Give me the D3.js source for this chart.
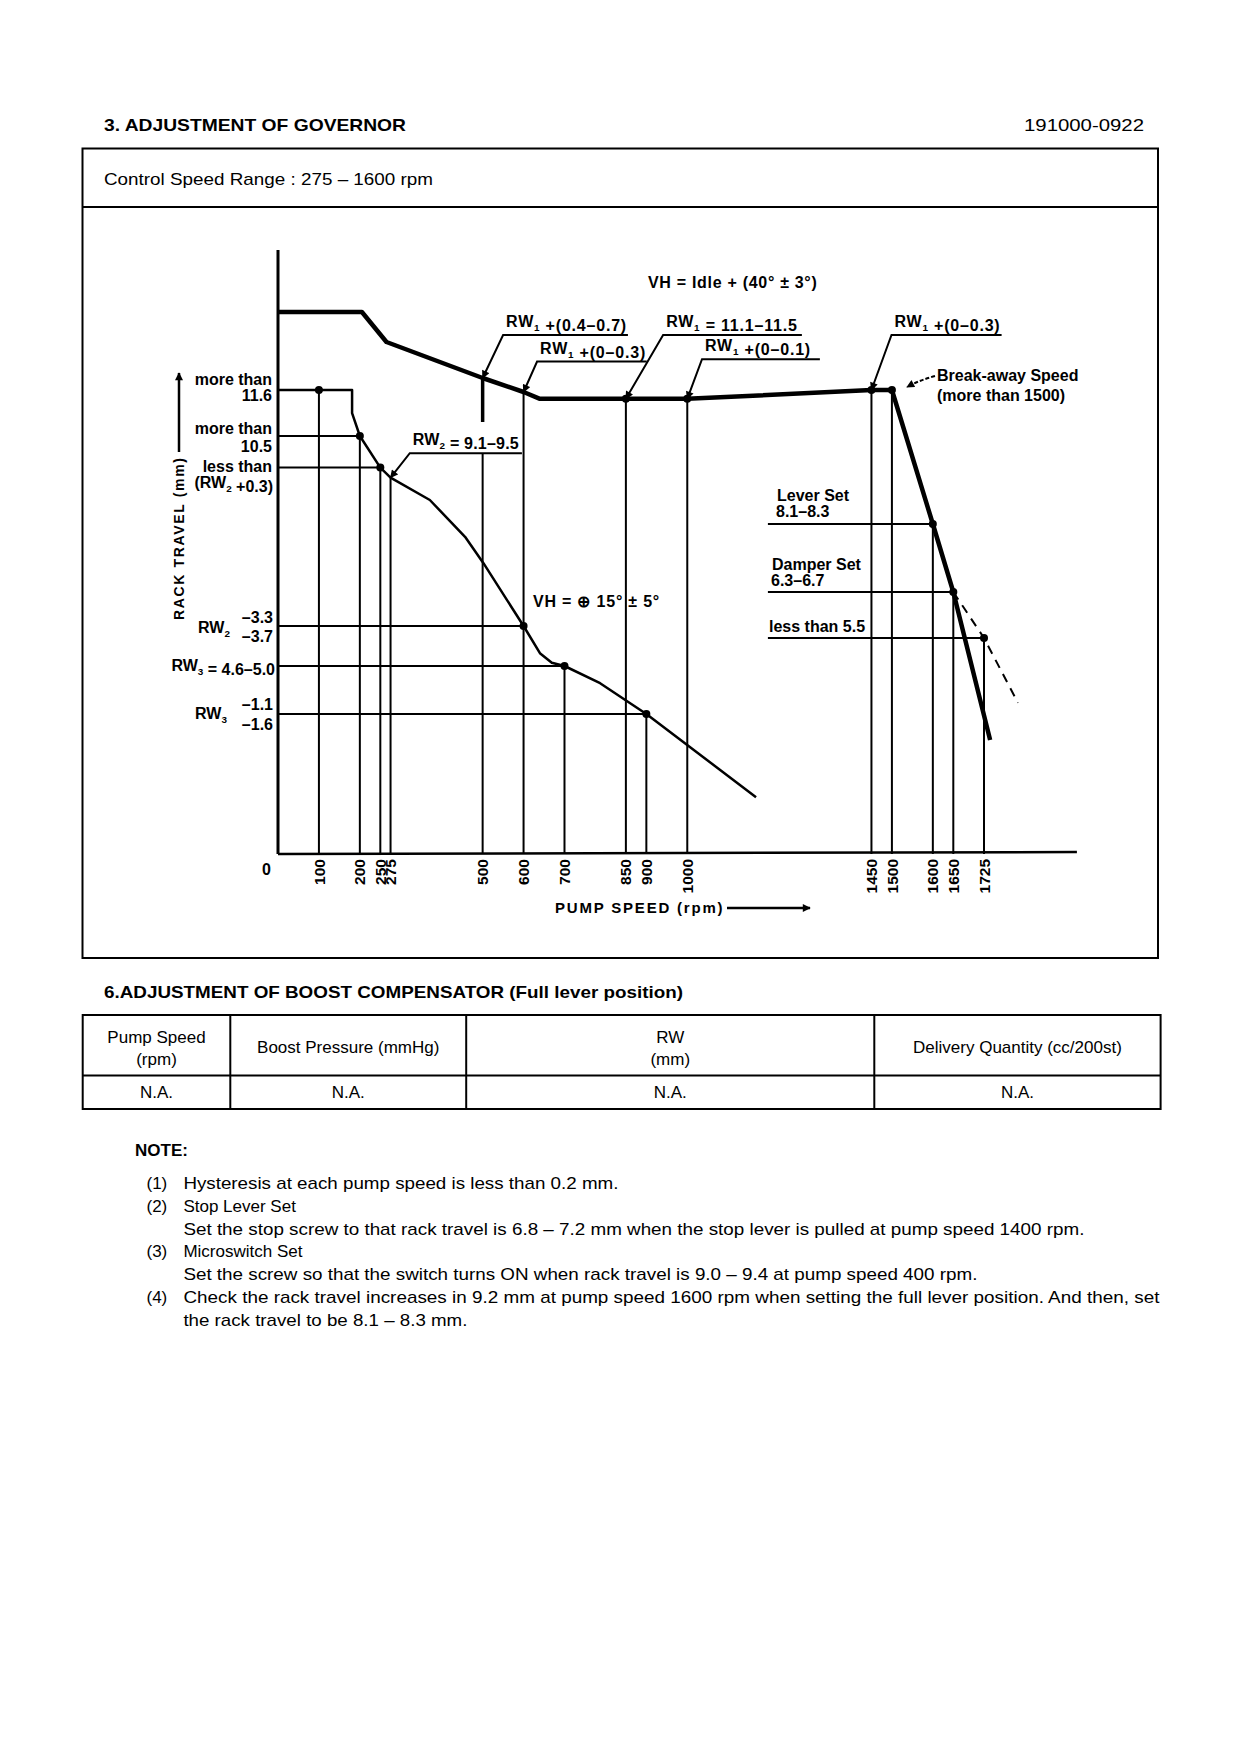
<!DOCTYPE html>
<html>
<head>
<meta charset="utf-8">
<script src="https://cdn.jsdelivr.net/npm/d3@7"></script>
<style>
body { margin:0; background:#fff; }
svg text { font-family:"Liberation Sans", Arial, Helvetica, sans-serif; fill:#000; }
</style>
</head>
<body>
<script>
// pump speed ticks (rpm)
var speedTicks = [100,200,250,275,500,600,700,850,900,1000,1450,1500,1600,1650,1725];

// full lever (full load) curve: [rpm, rack travel mm]
var fullLoad = [[0,13.55],[205,13.55],[265,12.8],[500,11.9],[600,11.55],[640,11.38],[850,11.38],
                [1000,11.38],[1450,11.6],[1500,11.6],[1600,8.25],[1650,6.55],[1740,2.85]];
// idle lever curve
var idle = [[0,11.6],[181,11.6],[181,11.02],[200,10.45],[250,9.66],[275,9.41],[371,8.85],[457,7.93],
            [502,7.27],[600,5.7],[640,5.02],[669,4.78],[700,4.7],[787,4.27],[900,3.5],[1168,1.42]];
// damper released (dashed)
var damperOff = [[1650,6.55],[1725,5.4],[1808,3.78]];

// measuring points
var points = [[100,11.6],[200,10.45],[250,9.66],[600,5.7],[700,4.7],[900,3.5],
              [850,11.38],[1000,11.38],[1450,11.6],[1500,11.6],[1600,8.25],[1650,6.55],[1725,5.4]];

// vertical guide lines [rpm, from mm, to mm]
var vGuides = [[100,0,11.6],[200,0,10.45],[250,0,9.66],[275,0,9.41],[500,0,10.02],[500,10.8,11.9],
               [600,0,11.55],[700,0,4.7],[850,0,11.38],[900,0,3.5],[1000,0,11.38],[1450,0,11.6],
               [1500,0,11.6],[1600,0,8.25],[1650,0,6.55],[1725,0,5.4]];
// horizontal guide lines [mm, from rpm, to rpm]
var hGuides = [[10.45,0,200],[9.66,0,250],[5.7,0,600],[4.7,0,700],[3.5,0,900],
               [8.25,1197,1600],[6.55,1197,1650],[5.4,1197,1725]];

// leader annotations: label, underline from/to rpm, underline mm, target point
var leaders = [
  {t:"RW_1 +(0.4–0.7)", a:550, b:855, h:12.975, p:[500,11.9]},
  {t:"RW_1 +(0–0.3)",   a:633, b:901, h:12.31,  p:[600,11.55]},
  {t:"RW_1 = 11.1–11.5", a:941, b:1280, h:12.975, p:[850,11.38]},
  {t:"RW_1 +(0–0.1)",   a:1036, b:1324, h:12.37, p:[1000,11.38]},
  {t:"RW_1 +(0–0.3)",   a:1499, b:1768, h:12.975, p:[1450,11.6]},
  {t:"RW_2 = 9.1–9.5",  a:322, b:596, h:10.02, p:[275,9.41]}
];

var notes = [
  ["(1)", "Hysteresis at each pump speed is less than 0.2 mm."],
  ["(2)", "Stop Lever Set"],
  ["", "Set the stop screw to that rack travel is 6.8 – 7.2 mm when the stop lever is pulled at pump speed 1400 rpm."],
  ["(3)", "Microswitch Set"],
  ["", "Set the screw so that the switch turns ON when rack travel is 9.0 – 9.4 at pump speed 400 rpm."],
  ["(4)", "Check the rack travel increases in 9.2 mm at pump speed 1600 rpm when setting the full lever position. And then, set"],
  ["", "the rack travel to be 8.1 – 8.3 mm."]
];
var noteWidths = [435,0,901,0,794,976,284];

var tableHead = [["Pump Speed","(rpm)"],["Boost Pressure (mmHg)"],["RW","(mm)"],["Delivery Quantity (cc/200st)"]];
var tableRow = ["N.A.","N.A.","N.A.","N.A."];
var tableCols = [82.7,230.3,466.2,874.3,1160.6];

var svg = d3.select("body").append("svg").attr("width",1240).attr("height",1754);

svg.append("defs").append("marker")
  .attr("id","arw").attr("viewBox","0 0 10 10").attr("refX",9).attr("refY",5)
  .attr("markerWidth",9).attr("markerHeight",8).attr("markerUnits","userSpaceOnUse").attr("orient","auto")
  .append("path").attr("d","M0,0L10,5L0,10z");

// text with _n subscripts
function rich(sel, s) {
  s.split(/(_\d)/).forEach(function(p){
    if (!p) return;
    if (p[0] === "_") {
      sel.append("tspan").attr("font-size","0.62em").attr("dy",4).text(p.slice(1));
      sel.append("tspan").attr("dy",-4).text("");
    } else sel.append("tspan").text(p);
  });
  return sel;
}

// ---------- page header ----------
svg.append("text").attr("x",104).attr("y",131).attr("font-size",17).attr("font-weight","bold")
  .attr("textLength",302).attr("lengthAdjust","spacingAndGlyphs").text("3.  ADJUSTMENT OF GOVERNOR");
svg.append("text").attr("x",1144).attr("y",131).attr("font-size",17).attr("text-anchor","end")
  .attr("textLength",120).attr("lengthAdjust","spacingAndGlyphs").text("191000-0922");

svg.append("rect").attr("x",82.5).attr("y",148.5).attr("width",1075.5).attr("height",809.5)
  .attr("fill","none").attr("stroke","#000").attr("stroke-width",2);
svg.append("line").attr("x1",82.5).attr("x2",1158).attr("y1",207).attr("y2",207).attr("stroke","#000").attr("stroke-width",2);
svg.append("text").attr("x",104).attr("y",185).attr("font-size",17)
  .attr("textLength",329).attr("lengthAdjust","spacingAndGlyphs").text("Control Speed Range : 275 – 1600 rpm");

// ---------- chart ----------
var x = d3.scaleLinear().domain([0,1725]).range([278,984]);
var y = d3.scaleLinear().domain([0,15]).range([854,254]);
var line = d3.line().x(function(d){return x(d[0]);}).y(function(d){return y(d[1]);});
var g = svg.append("g").attr("stroke","#000").attr("fill","none");

g.selectAll(".vg").data(vGuides).enter().append("line")
  .attr("x1",function(d){return x(d[0]);}).attr("x2",function(d){return x(d[0]);})
  .attr("y1",function(d){return y(d[1]);}).attr("y2",function(d){return y(d[2]);})
  .attr("stroke-width",function(d){return d[1] > 0 ? 3.5 : 2;});
g.selectAll(".hg").data(hGuides).enter().append("line")
  .attr("x1",function(d){return x(d[1]);}).attr("x2",function(d){return x(d[2]);})
  .attr("y1",function(d){return y(d[0]);}).attr("y2",function(d){return y(d[0]);})
  .attr("stroke-width",2);

// axes
g.append("line").attr("x1",x(0)).attr("x2",x(0)).attr("y1",y(0)).attr("y2",y(15.1)).attr("stroke-width",3);
g.append("line").attr("x1",x(0)).attr("x2",x(1952)).attr("y1",y(0)).attr("y2",y(0.05)).attr("stroke-width",2.5);

g.append("path").datum(idle).attr("d",line).attr("stroke-width",2.5).attr("stroke-linejoin","round");
g.append("path").datum(fullLoad).attr("d",line).attr("stroke-width",4.5).attr("stroke-linejoin","round");
g.append("path").datum(damperOff).attr("d",line).attr("stroke-width",2).attr("stroke-dasharray","9,7");

svg.selectAll(".pt").data(points).enter().append("circle")
  .attr("cx",function(d){return x(d[0]);}).attr("cy",function(d){return y(d[1]);}).attr("r",4).attr("fill","#000");

var lab = svg.append("g").attr("font-size",16).attr("font-weight","bold");
function t(xp, yp, s, anchor) {
  return rich(lab.append("text").attr("x",xp).attr("y",yp).attr("text-anchor",anchor||"start"), s);
}

// leaders
leaders.forEach(function(d,i){
  g.append("path").attr("stroke-width",2).attr("marker-end","url(#arw)")
    .attr("d","M"+x(d.b)+","+y(d.h)+"L"+x(d.a)+","+y(d.h)+"L"+x(d.p[0])+","+y(d.p[1]));
  t(x(d.a)+3, y(d.h)-8, d.t).attr("letter-spacing", i === 5 ? 0.2 : 0.8);
});

// left side labels
t(272,385,"more than","end"); t(272,401,"11.6","end");
t(272,434,"more than","end"); t(272,452,"10.5","end");
t(272,472,"less than","end"); t(273,488,"(RW_2 +0.3)","end");
t(198,633,"RW_2"); t(273,623,"–3.3","end"); t(273,642,"–3.7","end");
t(275,671,"RW_3 = 4.6–5.0","end");
t(195,719,"RW_3"); t(273,710,"–1.1","end"); t(273,730,"–1.6","end");
t(262,875,"0");

// inner labels
t(648,288,"VH = Idle + (40° ± 3°)").attr("letter-spacing",0.7);
t(533,607,"VH = ⊕ 15° ± 5°").attr("letter-spacing",0.8);
t(777,501,"Lever Set"); t(776,517,"8.1–8.3");
t(772,570,"Damper Set"); t(771,586,"6.3–6.7");
t(769,632,"less than 5.5");
t(937,381,"Break-away Speed"); t(937,401,"(more than 1500)");
g.append("path").attr("d","M935,376 Q920,380 907,387").attr("stroke-width",2)
  .attr("stroke-dasharray","4,2").attr("marker-end","url(#arw)");

// tick labels (rotated)
lab.selectAll(".tk").data(speedTicks).enter().append("text")
  .attr("transform",function(d){return "translate("+x(d)+",859) rotate(-90)";})
  .attr("text-anchor","end").attr("dy","0.36em").attr("font-size",15.5).text(function(d){return d;});

// axis titles
lab.append("text").attr("x",555).attr("y",913).attr("font-size",15).attr("letter-spacing",1.8).text("PUMP SPEED (rpm)");
g.append("line").attr("x1",727).attr("x2",810).attr("y1",908).attr("y2",908).attr("stroke-width",2.5).attr("marker-end","url(#arw)");
lab.append("text").attr("transform","translate(179,620) rotate(-90)").attr("dy","0.36em")
  .attr("font-size",14).attr("textLength",162).attr("lengthAdjust","spacing").text("RACK  TRAVEL  (mm)");
g.append("line").attr("x1",179).attr("x2",179).attr("y1",452).attr("y2",373).attr("stroke-width",2.5).attr("marker-end","url(#arw)");

// ---------- boost compensator table ----------
svg.append("text").attr("x",104).attr("y",998).attr("font-size",17).attr("font-weight","bold")
  .attr("textLength",579).attr("lengthAdjust","spacingAndGlyphs").text("6.ADJUSTMENT OF BOOST COMPENSATOR (Full lever position)");
var tb = svg.append("g").attr("stroke","#000").attr("stroke-width",2).attr("fill","none");
tb.append("rect").attr("x",tableCols[0]).attr("y",1015).attr("width",tableCols[4]-tableCols[0]).attr("height",94);
tb.append("line").attr("x1",tableCols[0]).attr("x2",tableCols[4]).attr("y1",1075.6).attr("y2",1075.6);
tableCols.slice(1,4).forEach(function(c){ tb.append("line").attr("x1",c).attr("x2",c).attr("y1",1015).attr("y2",1109); });
tableHead.forEach(function(h,i){
  var cx = (tableCols[i]+tableCols[i+1])/2;
  h.forEach(function(s,j){
    var yy = h.length === 1 ? 1052.5 : 1042.5 + j*22.5;
    svg.append("text").attr("x",cx).attr("y",yy).attr("font-size",17).attr("text-anchor","middle").text(s);
  });
  svg.append("text").attr("x",cx).attr("y",1098.4).attr("font-size",17).attr("text-anchor","middle").text(tableRow[i]);
});

// ---------- notes ----------
svg.append("text").attr("x",135).attr("y",1155.5).attr("font-size",17).attr("font-weight","bold").text("NOTE:");
notes.forEach(function(n,i){
  var yy = 1189 + i*22.8;
  if (n[0]) svg.append("text").attr("x",146.5).attr("y",yy).attr("font-size",17).text(n[0]);
  var tx = svg.append("text").attr("x",183.4).attr("y",yy).attr("font-size",17).text(n[1]);
  if (noteWidths[i]) tx.attr("textLength",noteWidths[i]).attr("lengthAdjust","spacingAndGlyphs");
});
</script>
</body>
</html>
